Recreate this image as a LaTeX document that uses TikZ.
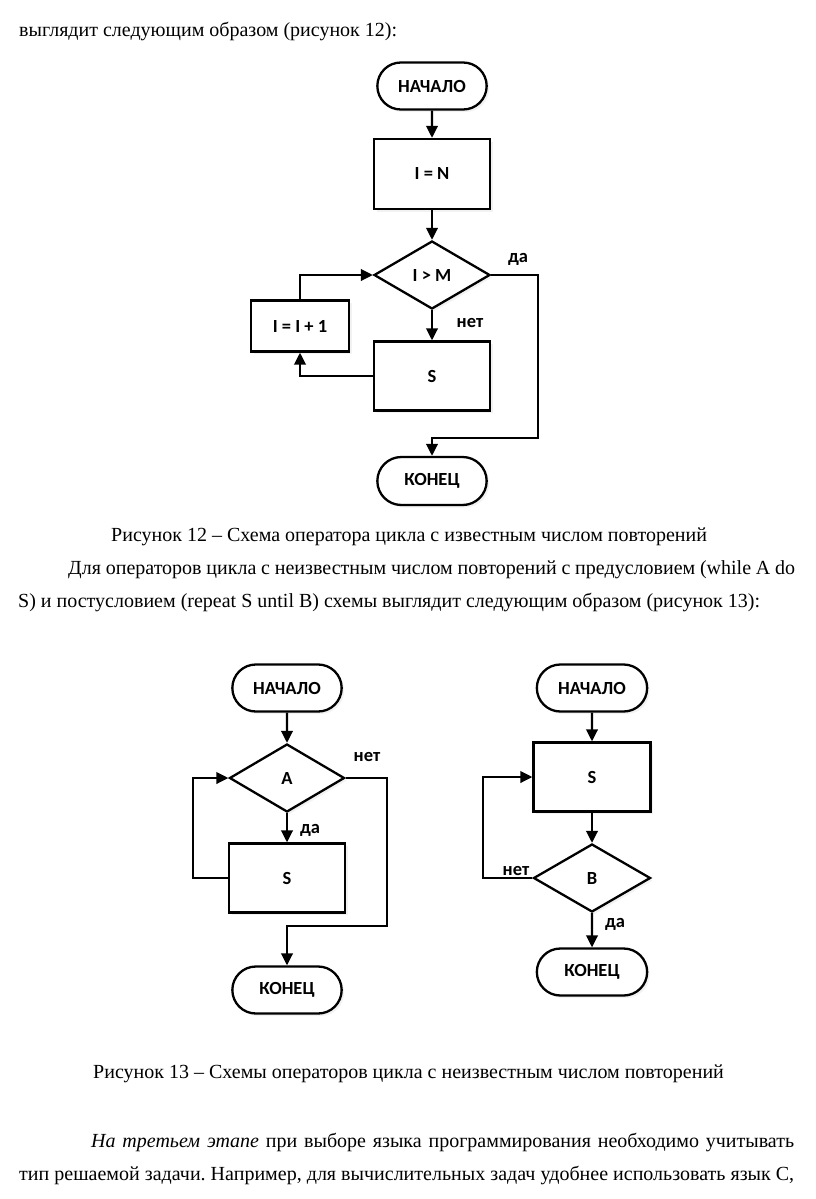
\documentclass[tikz,border=0pt]{standalone}
\usepackage{fontspec}
\setmainfont{Liberation Serif}
\newfontfamily\chartfont{Carlito}
\usetikzlibrary{arrows.meta,positioning,shapes.geometric,shapes.misc,shadows}
\frenchspacing

\begin{document}
\begin{tikzpicture}[x=1pt,y=-1pt,>={Triangle[length=12pt,width=11.5pt]},
    chart font/.style={font=\chartfont\bfseries\fontsize{18.5}{21}\selectfont},
    block/.style={draw,fill=white,line width=2.3pt,chart font,
      drop shadow={opacity=0.1,shadow xshift=2.5pt,shadow yshift=-2.5pt}},
    term node/.style={block,rounded rectangle,minimum width=116pt,minimum height=47pt},
    proc node/.style={block,rectangle,minimum width=116pt,minimum height=69pt},
    cond node/.style={block,diamond,aspect=1.7,inner sep=0pt,minimum width=116pt,minimum height=68pt},
    flow label/.style={chart font,inner sep=0pt},
    flow/.style={->,line width=2.3pt},
    line text/.style={anchor=base west,inner sep=0pt,font=\fontsize{20}{24}\selectfont}]
  \useasboundingbox (0,0) rectangle (816,1199);

  \node[line text] (intro) at (19,37) {выглядит следующим образом (рисунок 12):};

  % repeat with known count
  \node[term node] (start1) at (432,86) {НАЧАЛО};
  \node[proc node,minimum height=70pt] (init1) at (432,174) {I = N};
  \node[cond node] (cond1) at (432,275) {I > M};
  \node[proc node] (body1) at (432,376) {S};
  \node[proc node,minimum width=98pt,minimum height=51pt] (inc1) at (300,326) {I = I + 1};
  \node[term node,minimum height=48pt] (stop1) at (432,481) {КОНЕЦ};
  \coordinate (yes1) at (538,438);
  \node[flow label] (yeslabel1) at (518,259) {да};
  \node[flow label] (nolabel1) at (470,323) {нет};

  \draw[flow] (start1) -- (init1);
  \draw[flow] (init1) -- (cond1);
  \draw[flow] (cond1) -- (body1);
  \draw[flow] (body1.west) -| (inc1.south);
  \draw[flow] (inc1.north) |- (cond1.west);
  \draw[flow] (cond1.east) -| (yes1) -| (stop1.north);

  \node[line text] (cap12) at (111,541) {Рисунок 12 – Схема оператора цикла с известным числом повторений};
  \node[line text] (para1a) at (68,574) {\makebox[727pt][s]{Для операторов цикла с неизвестным числом повторений с предусловием (while A do}};
  \node[line text] (para1b) at (18,607) {S) и постусловием (repeat S until B) схемы выглядит следующим образом (рисунок 13):};

  % while A do S
  \node[term node] (start2) at (287,688) {НАЧАЛО};
  \node[cond node,minimum width=115pt] (cond2) at (287,778) {A};
  \node[proc node] (body2) at (287,878) {S};
  \node[term node] (stop2) at (287,990) {КОНЕЦ};
  \coordinate (back2) at (193,878);
  \coordinate (skip2) at (387,926);
  \node[flow label] (nolabel2) at (367,757) {нет};
  \node[flow label] (yeslabel2) at (310,830) {да};

  \draw[flow] (start2) -- (cond2);
  \draw[flow] (cond2) -- (body2);
  \draw[flow] (body2.west) -- (body2.west -| back2) |- (cond2.west);
  \draw[flow] (cond2.east) -| (skip2) -| (stop2.north);

  % repeat S until B
  \node[term node,minimum width=117pt] (start3) at (592,688) {НАЧАЛО};
  \node[proc node,minimum width=117pt] (body3) at (592,777) {S};
  \node[cond node,minimum width=117pt] (cond3) at (592,878) {B};
  \node[term node,minimum width=117pt] (stop3) at (592,972) {КОНЕЦ};
  \coordinate (back3) at (483,878);
  \node[flow label] (nolabel3) at (516,871) {нет};
  \node[flow label] (yeslabel3) at (615,924) {да};

  \draw[flow] (start3) -- (body3);
  \draw[flow] (body3) -- (cond3);
  \draw[flow] (cond3) -- (stop3);
  \draw[flow] (cond3.west) -- (cond3.west -| back3) |- (body3.west);

  \node[line text] (cap13) at (93,1078) {Рисунок 13 – Схемы операторов цикла с неизвестным числом повторений};
  \node[line text] (para2a) at (91,1147) {\makebox[703pt][s]{\textit{На третьем этапе} при выборе языка программирования необходимо учитывать}};
  \node[line text] (para2b) at (19,1180) {\makebox[775pt][s]{тип решаемой задачи. Например, для вычислительных задач удобнее использовать язык C,}};
\end{tikzpicture}
\end{document}
